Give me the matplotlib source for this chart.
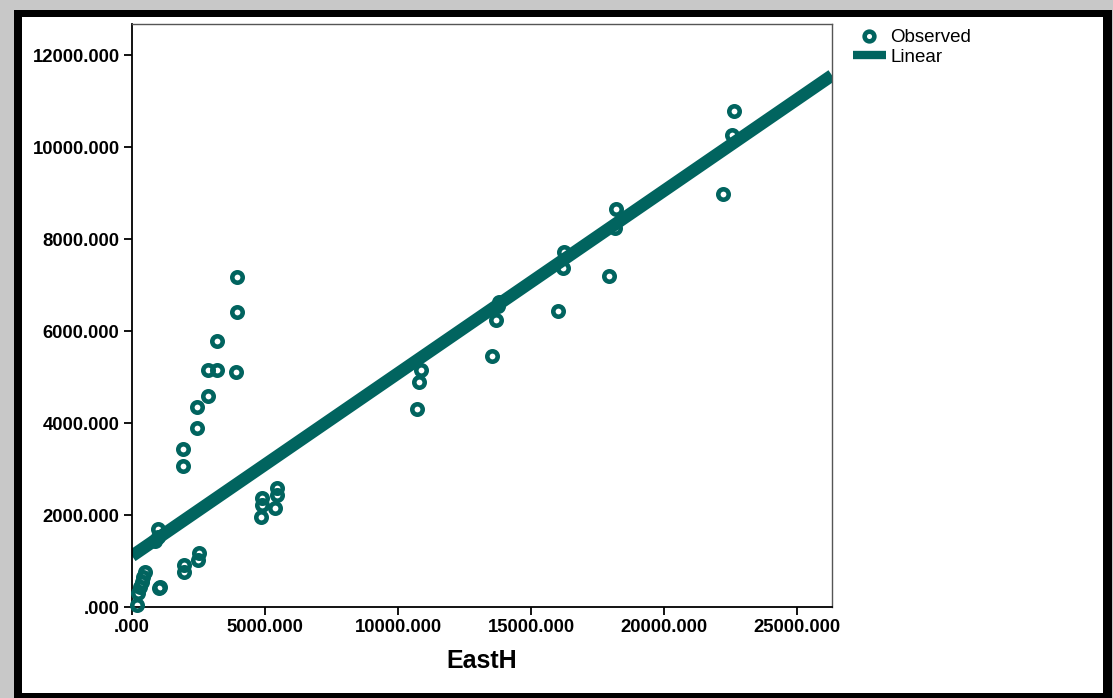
import numpy as np
import matplotlib
matplotlib.use("Agg")
import matplotlib.pyplot as plt
from matplotlib.lines import Line2D
from matplotlib.patches import Rectangle
from matplotlib.ticker import FuncFormatter

plt.rcParams['font.family'] = ['Liberation Sans', 'DejaVu Sans']

# Observed points (EastH vs dependent)
east_h = [22200, 22650, 22550, 18200, 18150, 17950, 16250, 16200, 16000,
          13750, 13700, 13550, 13800, 10850, 10800, 10700,
          3950, 3950, 3200, 2850, 3200, 3900, 2850, 2450, 2450, 1920, 1920,
          5450, 5450, 4890, 4890, 5380, 4850,
          2520, 2500, 1950, 1950,
          980, 980, 880, 1050, 1000,
          490, 410, 380, 300, 230, 190]
observed = [8980, 10780, 10260, 8650, 8250, 7200, 7720, 7370, 6430,
            6550, 6250, 5450, 6620, 5150, 4900, 4300,
            7170, 6410, 5780, 5150, 5150, 5110, 4590, 4350, 3890, 3430, 3070,
            2590, 2430, 2370, 2220, 2150, 1960,
            1170, 1020, 910, 760,
            1700, 1520, 1440, 430, 420,
            760, 650, 540, 430, 300, 40]

# fitted linear line
intercept = 1110
slope = 0.397

x_ticks = [0, 5000, 10000, 15000, 20000, 25000]
y_ticks = [0, 2000, 4000, 6000, 8000, 10000, 12000]

teal = '#01645f'

fig = plt.figure(figsize=(11.13, 6.98), dpi=100)
fig.patch.set_facecolor('white')

# frame around the picture: gray shadow + black border
W, H = 1113, 698
fig.patches.append(Rectangle((0, 0), 1, 1, transform=fig.transFigure,
                             facecolor='#c8c8c8', edgecolor='none', zorder=-3))
fig.patches.append(Rectangle((14 / W, 0), (1112 - 14) / W, (698 - 10) / H,
                             transform=fig.transFigure, facecolor='black',
                             edgecolor='none', zorder=-2))
fig.patches.append(Rectangle((22 / W, (698 - 693) / H), (1103 - 22) / W,
                             (693 - 17) / H, transform=fig.transFigure,
                             facecolor='white', edgecolor='none', zorder=-1))

ax = fig.add_axes([132 / W, 1 - 607 / H, (832 - 132) / W, (607 - 24) / H])
ax.set_facecolor('none')

xmax = 26316
xl = np.array([0, xmax])
ax.plot(xl, intercept + slope * xl, color=teal, lw=9, solid_capstyle='butt',
        zorder=2, clip_on=True)
ax.plot(east_h, observed, linestyle='none', marker='o', ms=7.5, mew=3.3,
        mfc='none', mec=teal, zorder=3, clip_on=False)

ax.set_xlim(0, xmax)
ax.set_ylim(0, 12674)
ax.set_xticks(x_ticks)
ax.set_yticks(y_ticks)


def fmt(v, pos):
    s = f"{v:.3f}"
    if s.startswith('0'):
        s = s[1:]
    return s


ax.xaxis.set_major_formatter(FuncFormatter(fmt))
ax.yaxis.set_major_formatter(FuncFormatter(fmt))
ax.tick_params(direction='out', length=6, width=1.3, labelsize=13.3, pad=3)
for lab in ax.get_xticklabels() + ax.get_yticklabels():
    lab.set_fontweight('bold')
for sp in ['left', 'bottom']:
    ax.spines[sp].set_linewidth(1.3)
for sp in ['top', 'right']:
    ax.spines[sp].set_linewidth(1.0)
    ax.spines[sp].set_color('#555555')

ax.set_xlabel('EastH', fontsize=18, fontweight='bold', labelpad=9)

handles = [Line2D([], [], linestyle='none', marker='o', ms=7, mew=3.3,
                  mfc='none', mec=teal),
           Line2D([], [], color=teal, lw=6, solid_capstyle='butt')]
fig.legend(handles, ['Observed', 'Linear'], loc='upper left',
           bbox_to_anchor=(853 / W, 1 - 29 / H), frameon=False, fontsize=13.5,
           handlelength=1.75, handletextpad=0.25, labelspacing=0.12,
           borderpad=0, borderaxespad=0)

fig.savefig('out.png', dpi=100, facecolor=fig.get_facecolor())
